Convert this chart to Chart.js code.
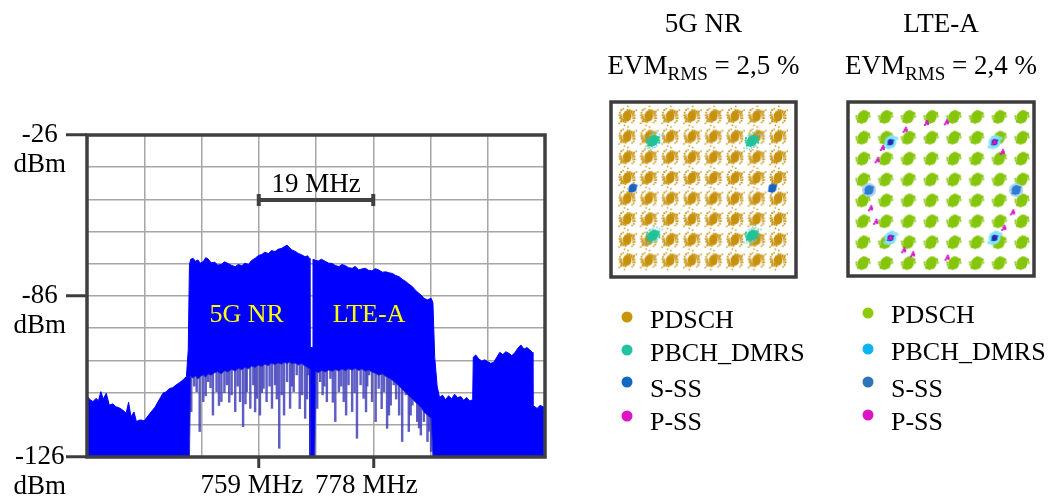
<!DOCTYPE html>
<html>
<head>
<meta charset="utf-8">
<script src="https://cdn.jsdelivr.net/npm/chart.js@4.4.1/dist/chart.umd.min.js"></script>
<style>
  html, body { margin: 0; padding: 0; background: #fff; }
  body { position: relative; width: 1060px; height: 498px; overflow: hidden; }
  canvas { position: absolute; top: 0; }
</style>
</head>
<body>
<canvas id="spectrum" width="570" height="498" style="left:0"></canvas>
<canvas id="nr" width="245" height="498" style="left:580px"></canvas>
<canvas id="lte" width="235" height="498" style="left:825px"></canvas>
<script>
// ---- spectrum analyser trace (MHz / dBm) ----
const freqMHz = [
  730.5,731.0,731.5,732.0,732.4,732.8,733.2,733.7,734.2,734.8,735.3,735.9,736.4,737.0,737.4,737.8,738.3,738.7,
  739.1,739.5,740.0,740.3,740.8,741.4,741.8,742.3,742.7,743.1,743.6,744.2,744.7,745.3,745.8,746.4,747.0,747.3,
  // 5G NR
  747.5,747.7,748.1,748.5,748.9,749.3,749.8,750.2,750.6,751.1,751.7,752.2,752.8,753.3,753.9,754.5,755.1,755.6,
  756.2,756.7,757.3,757.8,758.4,758.9,759.5,760.0,760.6,761.1,761.7,762.2,762.8,763.3,763.7,764.1,764.5,765.0,
  765.6,766.1,766.7,767.1,767.4,
  767.5,767.9,768.0,768.3,768.45,
  // LTE-A
  768.9,769.4,770.1,770.6,771.2,771.7,772.3,772.8,773.4,773.9,774.5,775.0,775.6,776.1,776.7,777.2,777.8,778.3,
  778.9,779.5,780.1,780.6,781.2,781.7,782.3,782.8,783.4,783.9,784.5,785.0,785.6,786.1,786.4,787.0,787.6,
  // upper part
  787.9,788.2,788.6,789.0,789.5,790.0,790.5,791.0,791.5,792.0,792.5,793.0,793.5,794.0,794.5,794.6,795.0,795.5,
  796.0,796.5,797.0,797.5,798.0,798.5,799.0,799.5,800.0,800.5,801.0,801.5,802.0,802.5,803.0,803.5,804.0,804.4,
  804.5,805.2,805.7,806.2,806.5
];
const traceMax = [
  -107.0,-108.2,-108.8,-107.8,-108.5,-105.7,-108.0,-106.2,-109.9,-109.5,-110.4,-110.8,-111.4,-112.4,-109.0,-113.5,-112.0,-115.0,
  -114.6,-114.5,-114.8,-114.0,-112.8,-111.4,-110.5,-108.8,-107.5,-106.2,-105.8,-104.7,-104.5,-103.6,-103.0,-102.1,-101.0,-92.8,
  -66.4,-64.6,-64.3,-65.2,-64.8,-65.8,-65.3,-64.1,-64.5,-65.7,-65.5,-66.4,-66.2,-65.4,-65.9,-66.5,-66.9,-66.2,
  -66.6,-65.8,-66.2,-65.0,-64.3,-63.5,-63.1,-62.4,-62.8,-61.9,-62.2,-61.5,-61.2,-60.6,-60.2,-61.0,-61.7,-62.1,
  -62.8,-63.2,-63.8,-63.5,-64.3,
  -92.0,-92.0,-64.6,-64.8,-65.0,
  -65.1,-64.6,-65.3,-65.8,-65.9,-66.5,-66.9,-66.2,-66.6,-67.2,-67.4,-66.8,-67.9,-67.6,-67.4,-68.0,-68.2,-67.5,
  -67.9,-68.6,-68.5,-68.8,-69.0,-69.6,-70.0,-70.8,-71.5,-72.3,-73.1,-74.2,-75.2,-76.0,-76.7,-77.2,-76.7,
  -78.0,-95.0,-104.0,-107.5,-106.8,-108.2,-107.0,-107.9,-106.5,-107.6,-107.2,-108.4,-107.5,-108.6,-108.2,-95.0,-94.3,-95.5,
  -96.2,-95.8,-96.4,-96.9,-96.6,-95.0,-93.5,-94.2,-93.3,-93.8,-94.5,-93.6,-92.2,-91.2,-92.5,-92.0,-92.8,-93.5,
  -110.0,-110.9,-109.9,-110.5,-110.2
];
const traceMin = [
  -126,-126,-126,-126,-126,-126,-126,-126,-126,-126,-126,-126,-126,-126,-126,-126,-126,-126,
  -126,-126,-126,-126,-126,-126,-126,-126,-126,-126,-126,-126,-126,-126,-126,-126,-126,-126,
  -126,-101.0,-101.5,-100.8,-101.8,-101.0,-100.5,-101.2,-100.2,-100.6,-99.8,-99.5,-100.2,-99.2,-99.6,-98.8,-99.3,-98.5,
  -98.9,-98.2,-98.6,-97.8,-98.2,-97.5,-97.9,-97.2,-97.6,-96.9,-97.3,-96.8,-97.2,-96.6,-97.0,-96.5,-97.1,-96.8,
  -97.4,-97.0,-97.8,-98.2,-98.6,
  -126,-126,-126,-126,-99.5,
  -99.8,-99.2,-99.6,-99.0,-99.4,-98.8,-99.3,-98.7,-99.2,-98.6,-99.0,-98.5,-99.1,-98.7,-99.4,-99.0,-99.6,-100.0,
  -100.6,-100.2,-101.0,-101.5,-102.2,-103.0,-104.0,-105.0,-106.0,-107.0,-108.0,-109.0,-110.0,-111.0,-112.0,-113.0,-114.0,
  -126,-126,-126,-126,-126,-126,-126,-126,-126,-126,-126,-126,-126,-126,-126,-126,-126,-126,
  -126,-126,-126,-126,-126,-126,-126,-126,-126,-126,-126,-126,-126,-126,-126,-126,-126,-126,
  -126,-126,-126,-126,-126
];
// deep single-bin dips inside the two carriers
const dipFreqMHz = [
  747.8,748.3,748.7,749.2,749.8,750.2,750.6,751.0,751.4,752.0,752.4,752.8,753.3,753.7,754.1,754.5,
  755.1,755.5,755.9,756.4,756.8,757.0,757.6,758.1,758.4,758.7,759.2,759.5,759.8,760.3,760.8,761.2,
  761.7,762.0,762.4,762.8,763.2,763.7,764.2,764.5,764.8,765.3,765.8,766.2,766.7,767.0,767.2,
  768.7,769.2,769.6,769.9,770.3,770.9,771.3,771.7,772.3,772.7,773.1,773.5,773.9,774.5,774.9,775.3,
  775.9,776.4,776.8,777.0,777.3,777.8,778.4,778.9,779.4,779.8,780.3,780.6,780.9,781.4,781.8,782.3,
  782.6,782.8,783.4,783.9,784.2,784.5,784.9,785.3,785.6,785.9,786.4,786.7,787.0,787.3,787.6
];
const dipLevel = [
  -111.9,-104.0,-105.7,-118.1,-108.8,-107.0,-102.6,-104.5,-113.0,-105.7,-110.0,-108.8,-106.0,-103.6,-109.0,-106.7,
  -111.9,-104.0,-108.8,-116.6,-109.5,-105.7,-110.9,-103.6,-112.0,-107.8,-113.0,-106.0,-104.7,-108.8,-104.0,-110.9,
  -103.6,-108.0,-123.3,-106.7,-113.0,-102.6,-110.9,-104.0,-105.7,-100.5,-111.0,-106.7,-114.0,-108.0,-100.5,
  -110.9,-102.6,-106.7,-104.0,-108.8,-101.6,-109.0,-115.0,-105.7,-104.0,-108.8,-113.0,-103.6,-111.9,-106.0,-120.2,
  -103.6,-107.8,-112.0,-104.0,-100.5,-108.8,-115.0,-104.7,-111.0,-105.7,-117.1,-113.0,-109.9,-103.6,-108.0,-113.0,
  -104.0,-121.2,-106.7,-118.1,-113.0,-109.9,-106.0,-115.0,-117.0,-119.2,-115.0,-110.0,-121.2,-118.0,-124.3
];
const gridFreqMHz = [730.5, 740, 749.5, 759, 768.5, 778, 787.5, 797, 806.5];
const freqTicks = [759, 778];
const freqUnit = 'MHz';
const levelGrid = [-126, -116, -106, -96, -86, -76, -66, -56, -46, -36, -26];
const levelTicks = [-126, -76, -26];
const levelTickLabels = ['-126', '-86', '-26'];
const levelUnit = 'dBm';
const spanMHz = [759, 778];
const spanLabel = '19 MHz';
const bandNames = ['5G NR', 'LTE-A'];
const bandCentresMHz = [757.0, 777.3];

// ---- constellations (normalised I/Q) ----
const qamLevels = [-1.08, -0.772, -0.463, -0.154, 0.154, 0.463, 0.772, 1.08];
const pbchPoints = [[-0.707, 0.707], [0.707, 0.707], [-0.707, -0.707], [0.707, -0.707]];
const sssPoints = [[-1, 0], [1, 0]];
const pssNr = [];
const pssLte = [
  [-0.21, 0.99], [0.06, 1.0], [-0.5, 0.89], [-0.81, 0.62], [-0.88, 0.44], [-0.97, -0.27], [-0.9, -0.47],
  [-0.52, -0.89], [-0.4, -0.95], [0.07, -1.0], [0.82, 0.56], [0.96, -0.33], [0.84, -0.56],
  [0.707, 0.707], [-0.707, -0.707]
];
const symbolNames = ['PDSCH', 'PBCH_DMRS', 'S-SS', 'P-SS'];
const nrTitle = '5G NR', lteTitle = 'LTE-A';
const evmLabel = 'EVM', evmSub = 'RMS';
const nrEvm = ' = 2,5 %', lteEvm = ' = 2,4 %';

const serif = '"Liberation Serif", "Times New Roman", serif';
Chart.defaults.font.family = serif;
Chart.defaults.color = '#000';

const asXY = (pts) => pts.map(p => ({ x: p[0], y: p[1] }));
const pick = (list, v) => list.indexOf(v);

const spectrumDecor = {
  id: 'spectrumDecor',
  afterDatasetsDraw(chart) {
    const { ctx, chartArea: a, scales: { x, y } } = chart;
    ctx.save();
    const x1 = x.getPixelForValue(spanMHz[0]), x2 = x.getPixelForValue(spanMHz[1]);
    const yb = y.getPixelForValue(-46.2);
    ctx.strokeStyle = '#404040';
    ctx.lineWidth = 4;
    ctx.beginPath();
    ctx.moveTo(x1, yb); ctx.lineTo(x2, yb);
    ctx.moveTo(x1, yb - 6); ctx.lineTo(x1, yb + 6);
    ctx.moveTo(x2, yb - 6); ctx.lineTo(x2, yb + 6);
    ctx.stroke();
    ctx.font = '27px ' + serif;
    ctx.textAlign = 'center';
    ctx.textBaseline = 'alphabetic';
    ctx.fillStyle = '#000';
    ctx.fillText(spanLabel, (x1 + x2) / 2, yb - 8);
    ctx.font = '26px ' + serif;
    ctx.fillStyle = '#ffff00';
    bandNames.forEach((t, i) => ctx.fillText(t, x.getPixelForValue(bandCentresMHz[i]), y.getPixelForValue(-84.1)));
    ctx.strokeStyle = '#3f3f3f';
    ctx.lineWidth = 3.5;
    ctx.strokeRect(a.left, a.top, a.right - a.left, a.bottom - a.top);
    ctx.restore();
  }
};

new Chart(document.getElementById('spectrum'), {
  type: 'line',
  data: {
    datasets: [
      { label: 'max', data: freqMHz.map((f, i) => ({ x: f, y: traceMax[i] })),
        borderColor: '#0000ff', borderWidth: 1, backgroundColor: '#0000ff', fill: '+1', pointRadius: 0, order: 1 },
      { label: 'min', data: freqMHz.map((f, i) => ({ x: f, y: traceMin[i] })),
        borderColor: 'rgba(40,40,200,0.9)', borderWidth: 1, fill: false, pointRadius: 0, order: 0 },
      { type: 'bar', label: 'dips', data: dipFreqMHz.map((f, i) => ({ x: f, y: [dipLevel[i], -92] })),
        backgroundColor: 'rgba(66,66,188,0.85)', barThickness: 1.8, order: 2 }
    ]
  },
  options: {
    responsive: false, animation: false, events: [],
    layout: { padding: { left: 7, top: 135, right: 25, bottom: 1 } },
    scales: {
      x: {
        type: 'linear', min: 730.5, max: 806.5, offset: false,
        afterBuildTicks: s => { s.ticks = gridFreqMHz.map(v => ({ value: v })); },
        afterFit: s => { s.height = 40; },
        grid: {
          offset: false, color: '#a6a6a6', lineWidth: 1.5, tickLength: 11, tickWidth: 3,
          tickColor: c => (c.tick && pick(freqTicks, c.tick.value) >= 0) ? '#3c3c3c' : 'rgba(0,0,0,0)'
        },
        border: { display: false },
        ticks: {
          autoSkip: false, maxRotation: 0, minRotation: 0, padding: 2, labelOffset: -7, font: { size: 27 },
          callback: v => pick(freqTicks, v) >= 0 ? v + ' ' + freqUnit : ''
        }
      },
      y: {
        type: 'linear', min: -126, max: -26, beginAtZero: false,
        afterBuildTicks: s => { s.ticks = levelGrid.map(v => ({ value: v })); },
        afterFit: s => { s.width = 80; },
        grid: {
          color: '#a6a6a6', lineWidth: 1.5, tickLength: 21, tickWidth: 3,
          tickColor: c => (c.tick && pick(levelTicks, c.tick.value) >= 0) ? '#3c3c3c' : 'rgba(0,0,0,0)'
        },
        border: { display: false },
        ticks: {
          autoSkip: false, padding: 0, crossAlign: 'center', labelOffset: 15, font: { size: 27, lineHeight: 1.1 },
          callback: v => { const k = pick(levelTicks, v); return k < 0 ? '' : [levelTickLabels[k], levelUnit]; }
        }
      }
    },
    plugins: { legend: { display: false }, tooltip: { enabled: false } }
  },
  plugins: [spectrumDecor]
});

// speckled cluster marker drawn once and reused as point style
function sprite(layers) {
  const size = 30;
  const c = document.createElement('canvas');
  c.width = c.height = size;
  const g = c.getContext('2d');
  const m = size / 2;
  layers.forEach(l => {
    g.fillStyle = l.color;
    if (l.core) { g.beginPath(); g.arc(m, m, l.core, 0, 2 * Math.PI); g.fill(); }
    for (let k = 0; k < (l.count || 0); k++) {
      const ang = k * 2.39996;
      const r = l.radius * Math.pow((k * 0.7548777 + 0.21) % 1, l.power);
      g.fillRect(m + r * Math.cos(ang) - l.dot / 2, m + r * Math.sin(ang) - l.dot / 2, l.dot, l.dot);
    }
  });
  return c;
}

function constellationDecor(cfg) {
  return {
    id: 'constellationDecor',
    afterDatasetsDraw(chart) {
      const { ctx, chartArea: a } = chart;
      const cx = (a.left + a.right) / 2;
      const big = '27px ' + serif, small = '19px ' + serif;
      ctx.save();
      ctx.fillStyle = '#000';
      ctx.textBaseline = 'alphabetic';
      ctx.font = big;
      ctx.textAlign = 'center';
      ctx.fillText(cfg.title, cx, 32);
      ctx.textAlign = 'left';
      const w1 = ctx.measureText(evmLabel).width, w3 = ctx.measureText(cfg.evm).width;
      ctx.font = small;
      const w2 = ctx.measureText(evmSub).width;
      const x0 = cx - (w1 + w2 + w3) / 2;
      ctx.font = big; ctx.fillText(evmLabel, x0, 74);
      ctx.font = small; ctx.fillText(evmSub, x0 + w1, 80);
      ctx.font = big; ctx.fillText(cfg.evm, x0 + w1 + w2, 74);
      ctx.strokeStyle = '#3c3c3c';
      ctx.lineWidth = 3.5;
      ctx.strokeRect(a.left, a.top, a.right - a.left, a.bottom - a.top);
      ctx.font = '26px ' + serif;
      chart.data.datasets.forEach((ds, i) => {
        ctx.fillStyle = ds.legendColor;
        ctx.beginPath();
        ctx.arc(cfg.legendX, cfg.dotY[i], 5.5, 0, 2 * Math.PI);
        ctx.fill();
        ctx.fillStyle = '#000';
        ctx.fillText(ds.label, cfg.legendX + 23, cfg.textY[i]);
      });
      ctx.restore();
    }
  };
}

function constellation(id, sets, pad, range, cfg) {
  return new Chart(document.getElementById(id), {
    type: 'scatter',
    data: {
      datasets: sets.map((s, i) => ({
        label: symbolNames[i], data: s.data, pointStyle: s.style, pointRadius: 6,
        legendColor: s.legend, order: sets.length - i
      }))
    },
    options: {
      responsive: false, animation: false, events: [],
      layout: { padding: pad },
      scales: {
        x: { display: false, min: range[0], max: range[1] },
        y: { display: false, min: range[2], max: range[3] }
      },
      plugins: { legend: { display: false }, tooltip: { enabled: false } }
    },
    plugins: [constellationDecor(cfg)]
  });
}

const pdschPoints = qamLevels.flatMap(i => qamLevels.map(q => ({ x: i, y: q })));
const pssStyle = sprite([{ color: '#d81cc6', core: 1.8, radius: 3, count: 5, power: 1, dot: 2 }]);

constellation('nr', [
  { data: pdschPoints, legend: '#c8960a',
    style: sprite([{ color: '#c8920e', core: 4.5, radius: 8.5, count: 55, power: 1.0, dot: 1.8 },
                   { color: '#c8920e', radius: 11, count: 10, power: 0.4, dot: 1.5 }]) },
  { data: asXY(pbchPoints), legend: '#22c3a0',
    style: sprite([{ color: '#5fd6e6', radius: 11, count: 20, power: 0.8, dot: 1.5 },
                   { color: '#22c39b', core: 5, radius: 7, count: 50, power: 1.0, dot: 2 }]) },
  { data: asXY(sssPoints), legend: '#1367c2',
    style: sprite([{ color: '#1b63c6', core: 4, radius: 4.5, count: 25, power: 0.8, dot: 2 }]) },
  { data: asXY(pssNr), legend: '#dc14c4', style: pssStyle }
], { left: 31, top: 102, right: 29, bottom: 221 }, [-1.31, 1.338, -1.33, 1.29],
  { title: nrTitle, evm: nrEvm, legendX: 47, dotY: [317, 350, 382, 416], textY: [328, 361, 397, 430] });

constellation('lte', [
  { data: pdschPoints, legend: '#8ccb0a',
    style: sprite([{ color: '#86c60c', core: 5.5, radius: 7, count: 40, power: 0.5, dot: 2 }]) },
  { data: asXY(pbchPoints), legend: '#0ab4f0',
    style: sprite([{ color: '#7fe4fb', core: 6, radius: 8, count: 30, power: 0.7, dot: 2 },
                   { color: '#2030b0', core: 3, radius: 3.5, count: 10, power: 1, dot: 1.5 }]) },
  { data: asXY(sssPoints), legend: '#2f74b5',
    style: sprite([{ color: '#a8d0f0', core: 7 },
                   { color: '#2f7fd0', core: 4.5, radius: 5, count: 20, power: 1, dot: 2 }]) },
  { data: asXY(pssLte), legend: '#dc14c4', style: pssStyle }
], { left: 23, top: 102, right: 26, bottom: 222 }, [-1.284, 1.243, -1.27, 1.30],
  { title: lteTitle, evm: lteEvm, legendX: 43, dotY: [313, 349, 382, 415], textY: [323, 360, 397, 430] });
</script>
</body>
</html>
